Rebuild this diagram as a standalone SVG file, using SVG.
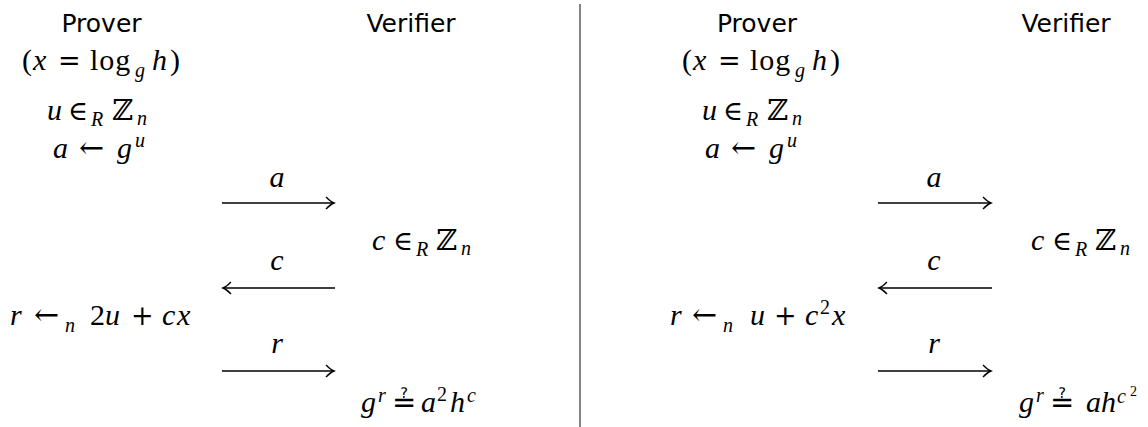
<svg xmlns="http://www.w3.org/2000/svg" width="1148" height="427" viewBox="0 0 1148 427">
<style>
.h{font-family:"DejaVu Sans","Liberation Sans",sans-serif;font-size:25px;fill:#000}
.m{font-family:"Liberation Serif","DejaVu Serif",serif;font-size:30px;fill:#000}
.i{font-style:italic}
.s{font-size:20px}
.ss{font-size:14px}
.ar{font-family:"DejaVu Serif",serif;font-size:30px}
.op{font-family:"DejaVu Serif",serif;font-size:27px}
.q{font-family:"DejaVu Sans",sans-serif;font-size:29px}
.z{font-family:"DejaVu Serif","DejaVu Sans",serif;font-size:29px}
.ln{stroke:#000;stroke-width:1.4;fill:none}
</style>
<defs>
<marker id="ah" viewBox="-10 -7 12 14" refX="0" refY="0" markerWidth="12" markerHeight="14" markerUnits="userSpaceOnUse" orient="auto">
<path d="M -8 -6 Q -3 -1 0 0 Q -3 1 -8 6" stroke="#000" stroke-width="1.4" fill="none"/>
</marker>
</defs>
<g id="divider"><line x1="580" y1="4" x2="580" y2="427" stroke="#333" stroke-width="1.2"/></g>

<g id="left-prover">
<text class="h" x="101.5" y="32" text-anchor="middle">Prover</text>
<text class="m" y="70"><tspan x="22">(</tspan><tspan class="i" x="33">x</tspan><tspan class="op" x="58">=</tspan><tspan x="90" letter-spacing="1">log</tspan><tspan class="s i" x="135" y="77">g</tspan><tspan class="i" x="152" y="70">h</tspan><tspan x="170">)</tspan></text>
<text class="m" y="120"><tspan class="i" x="47">u</tspan><tspan class="op" x="68">∈</tspan><tspan class="s i" x="91" y="126">R</tspan><tspan class="z" x="112" y="120">ℤ</tspan><tspan class="s i" x="137" y="125">n</tspan></text>
<text class="m" y="158"><tspan class="i" x="53">a</tspan><tspan class="ar" x="79">←</tspan><tspan class="i" x="117">g</tspan><tspan class="s i" x="135" y="147">u</tspan></text>
<text class="m" y="325"><tspan class="i" x="10">r</tspan><tspan class="ar" x="34">←</tspan><tspan class="s i" x="65" y="332">n</tspan><tspan x="90" y="325">2</tspan><tspan class="i" x="105">u</tspan><tspan class="op" x="131">+</tspan><tspan class="i" x="162">c</tspan><tspan class="i" x="177">x</tspan></text>
</g>
<g id="left-verifier">
<text class="h" x="411" y="32" text-anchor="middle">Verifier</text>
<text class="m" y="250"><tspan class="i" x="372">c</tspan><tspan class="op" x="393">∈</tspan><tspan class="s i" x="416" y="256">R</tspan><tspan class="z" x="436" y="250">ℤ</tspan><tspan class="s i" x="461" y="255">n</tspan></text>
<text class="m" y="412"><tspan class="i" x="361">g</tspan><tspan class="s i" x="378" y="402">r</tspan><tspan class="q" x="392" y="412">≟</tspan><tspan class="i" x="421">a</tspan><tspan class="s" x="437" y="401">2</tspan><tspan class="i" x="450" y="412">h</tspan><tspan class="s i" x="467" y="402">c</tspan></text>
</g>

<g id="right-prover">
<text class="h" x="757" y="32" text-anchor="middle">Prover</text>
<text class="m" y="70"><tspan x="682">(</tspan><tspan class="i" x="693">x</tspan><tspan class="op" x="718">=</tspan><tspan x="750" letter-spacing="1">log</tspan><tspan class="s i" x="795" y="77">g</tspan><tspan class="i" x="812" y="70">h</tspan><tspan x="830">)</tspan></text>
<text class="m" y="120"><tspan class="i" x="702">u</tspan><tspan class="op" x="723">∈</tspan><tspan class="s i" x="746" y="126">R</tspan><tspan class="z" x="767" y="120">ℤ</tspan><tspan class="s i" x="792" y="125">n</tspan></text>
<text class="m" y="158"><tspan class="i" x="705">a</tspan><tspan class="ar" x="731">←</tspan><tspan class="i" x="769">g</tspan><tspan class="s i" x="787" y="147">u</tspan></text>
<text class="m" y="325"><tspan class="i" x="670">r</tspan><tspan class="ar" x="692">←</tspan><tspan class="s i" x="723" y="332">n</tspan><tspan class="i" x="750" y="325">u</tspan><tspan class="op" x="774">+</tspan><tspan class="i" x="805">c</tspan><tspan class="s" x="820" y="314">2</tspan><tspan class="i" x="832" y="325">x</tspan></text>
</g>
<g id="right-verifier">
<text class="h" x="1066" y="32" text-anchor="middle">Verifier</text>
<text class="m" y="250"><tspan class="i" x="1031">c</tspan><tspan class="op" x="1052">∈</tspan><tspan class="s i" x="1075" y="256">R</tspan><tspan class="z" x="1095" y="250">ℤ</tspan><tspan class="s i" x="1120" y="255">n</tspan></text>
<text class="m" y="412"><tspan class="i" x="1019">g</tspan><tspan class="s i" x="1036" y="402">r</tspan><tspan class="q" x="1050" y="412">≟</tspan><tspan class="i" x="1086">a</tspan><tspan class="i" x="1101">h</tspan><tspan class="s i" x="1117" y="403">c</tspan><tspan class="ss" x="1130" y="396">2</tspan></text>
</g>

<g id="connectors">
<line class="ln" x1="222" y1="203" x2="334" y2="203" marker-end="url(#ah)"/>
<line class="ln" x1="335" y1="288" x2="223" y2="288" marker-end="url(#ah)"/>
<line class="ln" x1="222" y1="371" x2="334" y2="371" marker-end="url(#ah)"/>
<line class="ln" x1="878" y1="203" x2="991" y2="203" marker-end="url(#ah)"/>
<line class="ln" x1="992" y1="288" x2="879" y2="288" marker-end="url(#ah)"/>
<line class="ln" x1="878" y1="371" x2="991" y2="371" marker-end="url(#ah)"/>
<text class="m i" x="277" y="187" text-anchor="middle">a</text>
<text class="m i" x="277" y="270" text-anchor="middle">c</text>
<text class="m i" x="277" y="353" text-anchor="middle">r</text>
<text class="m i" x="934" y="187" text-anchor="middle">a</text>
<text class="m i" x="934" y="270" text-anchor="middle">c</text>
<text class="m i" x="934" y="353" text-anchor="middle">r</text>
</g>
</svg>
